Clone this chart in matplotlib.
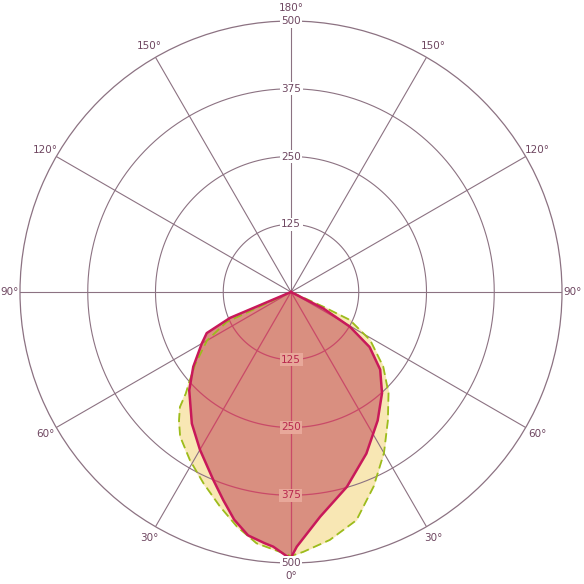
import numpy as np
import matplotlib
matplotlib.use("Agg")
import matplotlib.pyplot as plt

# C0-C180 plane (salmon fill, crimson outline); negative gamma = left half
c0_gamma = [-67, -67, -64, -60, -52.6, -46, -37, -30, -22.5, -18, -14, -10, -6, -4, -1, 0,
            1.3, 7.4, 16, 25, 34, 42, 49, 55, 59.5, 63, 63]
c0_int = [0, 122, 173, 190, 227, 261, 304, 336, 375, 404, 433, 456, 466, 471, 487, 490,
          470, 418, 374, 329, 286, 251, 218, 177, 126, 67, 0]

# C90-C270 plane (yellow fill, green dashed outline)
c90_gamma = [-65, -65, -60, -53, -49, -46, -44, -41, -37.5, -31, -24.6, -18.3, -13, -7.8,
             -2.4, 0, 2.7, 8.9, 16, 23, 30, 37, 44, 51, 58.7, 64.6, 65.5, 65.5]
c90_int = [0, 131, 179, 221, 247, 270, 295, 315, 336, 362, 388, 417, 444, 468,
           480, 487, 480, 463, 438, 390, 343, 297, 259, 219, 171, 120, 65, 0]

ring_values = [125, 250, 375, 500]
angle_values = [0, 30, 60, 90, 120, 150, 180, -30, -60, -90, -120, -150]

grid_col = "#8c7282"
text_col = "#6e4660"
crimson = "#c8195a"
salmon = "#d98f80"

fig = plt.figure(figsize=(5.84, 5.84), dpi=100)
ax = fig.add_axes([20 / 584, 21 / 584, 542 / 584, 542 / 584], projection="polar")
ax.set_theta_zero_location("S")
ax.set_ylim(0, 500)
ax.set_xticks([])
ax.set_yticks([])
ax.grid(False)
ax.spines["polar"].set_color(grid_col)
ax.spines["polar"].set_linewidth(0.9)

full = np.linspace(0, 2 * np.pi, 361)


def draw_grid(color, z, lw, clip=None):
    arts = []
    for r in ring_values[:-1]:
        arts += ax.plot(full, [r] * len(full), color=color, lw=lw, zorder=z)
    for a in angle_values:
        arts += ax.plot([np.radians(a)] * 2, [0, 500], color=color, lw=lw, zorder=z)
    if clip is not None:
        for art in arts:
            art.set_clip_path(clip)


# yellow plane under the grid
t90 = np.radians(c90_gamma)
ax.fill(t90, c90_int, color="#f8e7b4", zorder=0.5)

draw_grid(grid_col, 1, 0.8)

# salmon plane on top, with reddish grid showing through
t0 = np.radians(c0_gamma)
patch = ax.fill(t0, c0_int, facecolor=salmon, edgecolor="#f2cf8a", lw=0.8, zorder=2)[0]
draw_grid("#c94a68", 2.5, 0.9, clip=patch)

ax.plot(t90, c90_int, color="#9cbc1c", lw=1.3, ls=(0, (5, 2.5)), zorder=3)
ax.plot(t0, c0_int, color=crimson, lw=1.8, zorder=4)

# radial labels, top and bottom
for r in ring_values:
    ax.text(np.pi, r, str(r), ha="center", va="center", fontsize=7.5, color=text_col,
            bbox=dict(boxstyle="square,pad=0.15", fc="white", ec="none"), zorder=5)
    if r < 500:
        ax.text(0, r, str(r), ha="center", va="center", fontsize=7.5, color="#b8284e",
                bbox=dict(boxstyle="square,pad=0.15", fc="#e8a89a", ec="none"), zorder=5)
    else:
        ax.text(0, r, str(r), ha="center", va="center", fontsize=7.5, color=text_col,
                bbox=dict(boxstyle="square,pad=0.15", fc="white", ec="none"), zorder=5)

# angle labels
for a in angle_values:
    if abs(a) == 90:
        ha = "left" if a > 0 else "right"
        ax.text(np.radians(a), 503, "90°", ha=ha, va="center", fontsize=7.5,
                color=text_col, clip_on=False)
    else:
        ax.text(np.radians(a), 524, f"{abs(a)}°", ha="center", va="center", fontsize=7.5,
                color=text_col, clip_on=False)

fig.savefig("out.png", dpi=100)
